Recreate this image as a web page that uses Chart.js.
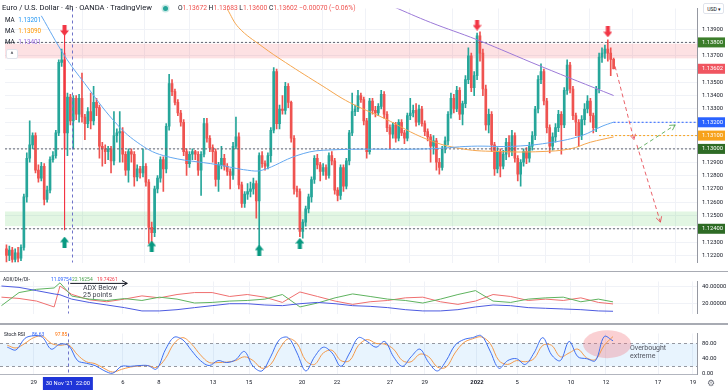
<!DOCTYPE html>
<html>
<head>
<meta charset="utf-8">
<script src="https://cdn.jsdelivr.net/npm/chart.js@4.4.0/dist/chart.umd.min.js"></script>
<style>
  body { margin: 0; background: #fff; font-family: Roboto, "Liberation Sans", sans-serif; }
  #wrap { position: relative; width: 728px; height: 391px; overflow: hidden; background: #fff; }
  canvas { position: absolute; left: 0; }
  .t { position: absolute; white-space: nowrap; line-height: 10px; color: #131722; }
  .s { font-size: 6px; transform: scaleX(0.82); transform-origin: 0 50%; }
  .k { color: #131722; }
  .sep { position: absolute; left: 0; width: 728px; background: #a8abb3; }
</style>
</head>
<body>
<div id="wrap">
  <canvas id="main" width="728" height="271" style="top:0"></canvas>
  <canvas id="adx" width="728" height="49" style="top:273px"></canvas>
  <canvas id="stoch" width="728" height="66" style="top:325px"></canvas>

  <div class="sep" style="top:271px;height:1px"></div>
  <div class="sep" style="top:323px;height:2px"></div>

  <!-- main legend -->
  <div class="t" style="left:2px;top:3px;font-size:7.6px">Euro / U.S. Dollar · 4h · OANDA · TradingView</div>
  <div style="position:absolute;left:163px;top:6px;width:5px;height:5px;border-radius:50%;background:#26a69a;box-shadow:0 0 0 1.5px rgba(38,166,154,0.25)"></div>
  <div class="t" style="left:178px;top:3px;font-size:6.7px;color:#ef5350"><span class="k">O</span>1.13672 <span class="k">H</span>1.13683 <span class="k">L</span>1.13600 <span class="k">C</span>1.13602 −0.00070 (−0.06%)</div>
  <div class="t" style="left:5px;top:15px;font-size:6.3px">MA <span style="color:#2196f3;margin-left:2px">1.13201</span></div>
  <div class="t" style="left:5px;top:26px;font-size:6.3px">MA <span style="color:#ff9800;margin-left:2px">1.13090</span></div>
  <div class="t" style="left:5px;top:37px;font-size:6.3px">MA <span style="color:#9c6ade;margin-left:2px">1.13401</span></div>
  <div style="position:absolute;left:6px;top:49px;width:10px;height:8px;border:1px solid #e0e3eb;border-radius:2px;background:#fff;font-size:7px;line-height:10px;text-align:center;color:#131722">^</div>
  <div style="position:absolute;left:703px;top:3px;width:19px;height:9px;border:1px solid #e0e3eb;border-radius:2px;font-size:6px;line-height:9px;text-align:center;color:#131722;background:#fff"><span style="display:inline-block;transform:scale(0.85)">USD ▾</span></div>

  <!-- ADX legend -->
  <div class="t s" style="left:3px;top:274px">ADX/DI+/DI-</div>
  <div class="t s" style="left:51px;top:274px;color:#2962ff">11.09754</div>
  <div class="t s" style="left:72px;top:274px;color:#43a047">22.16254</div>
  <div class="t s" style="left:97px;top:274px;color:#f23645">19.74261</div>
  <div class="t" style="left:83px;top:283px;font-size:7px;color:#434651">ADX Below</div>
  <div class="t" style="left:83px;top:290px;font-size:7px;color:#434651">25 points</div>

  <!-- Stoch legend -->
  <div class="t s" style="left:4px;top:329px">Stoch RSI</div>
  <div class="t s" style="left:32px;top:329px;color:#2962ff">86.63</div>
  <div class="t s" style="left:55px;top:329px;color:#ff6d00">97.85</div>
  <div class="t" style="left:630px;top:343px;font-size:7px;color:#50535e">Overbought</div>
  <div class="t" style="left:630px;top:351px;font-size:7px;color:#50535e">extreme</div>
  <div class="t" style="left:707px;top:378px;font-size:9px;color:#6a6d78">⚙</div>
</div>

<script>
// ---- data ----
const opens = [
  1.1225,1.1220,1.1224,1.1217,1.1222,1.1218,1.1226,1.1264,1.1293,1.1303,
  1.1310,1.1284,1.1278,1.1287,1.1262,1.1269,1.1292,1.1295,1.1312,1.1365,
  1.1367,1.1312,1.1339,1.1321,1.1338,1.1326,1.1338,1.1324,1.1319,1.1328,
  1.1321,1.1335,1.1331,1.1302,1.1300,1.1298,1.1300,1.1291,1.1310,1.1312,
  1.1313,1.1296,1.1284,1.1298,1.1296,1.1279,1.1285,1.1282,1.1287,1.1275,
  1.1241,1.1237,1.1270,1.1278,1.1292,1.1285,1.1317,1.1349,1.1343,1.1335,
  1.1327,1.1320,1.1298,1.1289,1.1296,1.1298,1.1296,1.1284,1.1296,1.1319,
  1.1308,1.1301,1.1298,1.1277,1.1288,1.1293,1.1287,1.1283,1.1280,1.1302,
  1.1309,1.1273,1.1259,1.1266,1.1268,1.1270,1.1274,1.1261,1.1295,1.1289,
  1.1287,1.1295,1.1314,1.1358,1.1319,1.1330,1.1329,1.1347,1.1335,1.1308,
  1.1270,1.1268,1.1238,1.1245,1.1255,1.1264,1.1277,1.1293,1.1288,1.1283,
  1.1286,1.1280,1.1295,1.1291,1.1269,1.1265,1.1286,1.1272,1.1291,1.1312,
  1.1328,1.1330,1.1340,1.1337,1.1321,1.1298,1.1336,1.1329,1.1327,1.1332,
  1.1341,1.1326,1.1316,1.1311,1.1318,1.1308,1.1320,1.1312,1.1308,1.1325,
  1.1327,1.1329,1.1320,1.1330,1.1319,1.1313,1.1309,1.1302,1.1306,1.1290,
  1.1286,1.1300,1.1306,1.1326,1.1338,1.1330,1.1344,1.1326,1.1334,1.1352,
  1.1370,1.1346,1.1355,1.1385,1.1372,1.1345,1.1318,1.1326,1.1303,1.1285,
  1.1298,1.1287,1.1296,1.1305,1.1298,1.1310,1.1293,1.1281,1.1290,1.1298,
  1.1293,1.1302,1.1310,1.1330,1.1352,1.1358,1.1336,1.1316,1.1302,1.1309,
  1.1316,1.1326,1.1318,1.1344,1.1363,1.1345,1.1325,1.1320,1.1310,1.1322,
  1.1330,1.1336,1.1325,1.1316,1.1345,1.1369,1.1372,1.1375,1.1372,1.13672
];
const highs = [
  1.1228,1.1227,1.1226,1.1225,1.1226,1.1228,1.1266,1.1297,1.1321,1.1312,
  1.1312,1.1288,1.1290,1.1289,1.1272,1.1294,1.1298,1.1314,1.1367,1.1375,
  1.1372,1.1342,1.1341,1.1340,1.1340,1.1341,1.1357,1.1326,1.1331,1.1342,
  1.1347,1.1338,1.1333,1.1305,1.1303,1.1302,1.1302,1.1328,1.1315,1.1328,
  1.1316,1.1298,1.1300,1.1300,1.1298,1.1288,1.1287,1.1300,1.1289,1.1277,
  1.1245,1.1272,1.1280,1.1294,1.1294,1.1319,1.1356,1.1352,1.1345,1.1337,
  1.1329,1.1322,1.1300,1.1298,1.1300,1.1299,1.1298,1.1298,1.1323,1.1323,
  1.1310,1.1303,1.1300,1.1290,1.1302,1.1296,1.1289,1.1285,1.1305,1.1324,
  1.1312,1.1275,1.1268,1.1274,1.1275,1.1278,1.1276,1.1297,1.1298,1.1291,
  1.1297,1.1316,1.1361,1.1360,1.1333,1.1340,1.1350,1.1349,1.1336,1.1310,
  1.1272,1.1270,1.1247,1.1257,1.1266,1.1279,1.1295,1.1296,1.1290,1.1289,
  1.1288,1.1297,1.1298,1.1293,1.1271,1.1288,1.1288,1.1293,1.1314,1.1342,
  1.1333,1.1344,1.1342,1.1339,1.1323,1.1338,1.1338,1.1332,1.1334,1.1344,
  1.1343,1.1328,1.1318,1.1320,1.1320,1.1322,1.1322,1.1314,1.1327,1.1338,
  1.1333,1.1334,1.1333,1.1332,1.1321,1.1315,1.1311,1.1310,1.1308,1.1293,
  1.1302,1.1309,1.1328,1.1342,1.1341,1.1347,1.1346,1.1336,1.1355,1.1376,
  1.1372,1.1358,1.1387,1.1388,1.1375,1.1348,1.1330,1.1328,1.1305,1.1301,
  1.1300,1.1299,1.1308,1.1310,1.1314,1.1312,1.1295,1.1292,1.1300,1.1301,
  1.1305,1.1313,1.1332,1.1355,1.1364,1.1360,1.1338,1.1318,1.1312,1.1319,
  1.1329,1.1328,1.1346,1.1367,1.1365,1.1347,1.1327,1.1322,1.1325,1.1334,
  1.1340,1.1338,1.1327,1.1347,1.1372,1.1376,1.1378,1.1382,1.1376,1.13683
];
const lows = [
  1.1215,1.1216,1.1214,1.1215,1.1215,1.1216,1.1224,1.1260,1.1290,1.1300,
  1.1282,1.1275,1.1276,1.1258,1.1260,1.1267,1.1290,1.1293,1.1310,1.1362,
  1.1300,1.1295,1.1318,1.1300,1.1322,1.1320,1.1320,1.1307,1.1316,1.1315,
  1.1318,1.1325,1.1293,1.1287,1.1289,1.1292,1.1282,1.1288,1.1305,1.1290,
  1.1290,1.1280,1.1275,1.1290,1.1272,1.1276,1.1278,1.1279,1.1272,1.1229,
  1.1227,1.1234,1.1267,1.1275,1.1268,1.1282,1.1314,1.1340,1.1333,1.1325,
  1.1317,1.1295,1.1280,1.1286,1.1292,1.1292,1.1280,1.1265,1.1294,1.1305,
  1.1298,1.1290,1.1272,1.1268,1.1285,1.1284,1.1280,1.1270,1.1277,1.1300,
  1.1270,1.1256,1.1256,1.1262,1.1264,1.1266,1.1248,1.1227,1.1286,1.1284,
  1.1285,1.1290,1.1312,1.1315,1.1315,1.1326,1.1326,1.1331,1.1305,1.1266,
  1.1264,1.1234,1.1233,1.1242,1.1252,1.1260,1.1274,1.1285,1.1276,1.1280,
  1.1277,1.1278,1.1288,1.1266,1.1261,1.1262,1.1268,1.1270,1.1288,1.1310,
  1.1325,1.1328,1.1335,1.1318,1.1293,1.1296,1.1326,1.1324,1.1325,1.1330,
  1.1323,1.1313,1.1300,1.1308,1.1305,1.1306,1.1310,1.1304,1.1306,1.1322,
  1.1324,1.1317,1.1318,1.1317,1.1310,1.1306,1.1290,1.1296,1.1284,1.1281,
  1.1284,1.1297,1.1303,1.1323,1.1327,1.1328,1.1322,1.1318,1.1331,1.1349,
  1.1343,1.1340,1.1352,1.1366,1.1340,1.1314,1.1312,1.1298,1.1280,1.1282,
  1.1279,1.1285,1.1292,1.1294,1.1295,1.1290,1.1276,1.1272,1.1287,1.1289,
  1.1290,1.1299,1.1307,1.1327,1.1349,1.1333,1.1312,1.1297,1.1299,1.1305,
  1.1313,1.1296,1.1316,1.1341,1.1342,1.1322,1.1310,1.1302,1.1307,1.1318,
  1.1327,1.1320,1.1312,1.1313,1.1342,1.1365,1.1368,1.1366,1.1355,1.13600
];
const closes = [
  1.1220,1.1224,1.1217,1.1222,1.1218,1.1226,1.1264,1.1293,1.1303,1.1310,
  1.1284,1.1278,1.1287,1.1262,1.1269,1.1292,1.1295,1.1312,1.1365,1.1367,
  1.1312,1.1339,1.1321,1.1338,1.1326,1.1338,1.1324,1.1319,1.1328,1.1321,
  1.1335,1.1331,1.1302,1.1300,1.1298,1.1300,1.1291,1.1310,1.1312,1.1313,
  1.1296,1.1284,1.1298,1.1296,1.1279,1.1285,1.1282,1.1287,1.1275,1.1241,
  1.1237,1.1270,1.1278,1.1292,1.1285,1.1317,1.1349,1.1343,1.1335,1.1327,
  1.1320,1.1298,1.1289,1.1296,1.1298,1.1296,1.1284,1.1296,1.1319,1.1308,
  1.1301,1.1298,1.1277,1.1288,1.1293,1.1287,1.1283,1.1280,1.1302,1.1309,
  1.1273,1.1259,1.1266,1.1268,1.1270,1.1274,1.1261,1.1295,1.1289,1.1287,
  1.1295,1.1314,1.1358,1.1319,1.1330,1.1329,1.1347,1.1335,1.1308,1.1270,
  1.1268,1.1238,1.1245,1.1255,1.1264,1.1277,1.1293,1.1288,1.1283,1.1286,
  1.1280,1.1295,1.1291,1.1269,1.1265,1.1286,1.1272,1.1291,1.1312,1.1328,
  1.1330,1.1340,1.1337,1.1321,1.1298,1.1336,1.1329,1.1327,1.1332,1.1341,
  1.1326,1.1316,1.1311,1.1318,1.1308,1.1320,1.1312,1.1308,1.1325,1.1327,
  1.1329,1.1320,1.1330,1.1319,1.1313,1.1309,1.1302,1.1306,1.1290,1.1286,
  1.1300,1.1306,1.1326,1.1338,1.1330,1.1344,1.1326,1.1334,1.1352,1.1370,
  1.1346,1.1355,1.1385,1.1372,1.1345,1.1318,1.1326,1.1303,1.1285,1.1298,
  1.1287,1.1296,1.1305,1.1298,1.1310,1.1293,1.1281,1.1290,1.1298,1.1293,
  1.1302,1.1310,1.1330,1.1352,1.1358,1.1336,1.1316,1.1302,1.1309,1.1316,
  1.1326,1.1318,1.1344,1.1363,1.1345,1.1325,1.1320,1.1310,1.1322,1.1330,
  1.1336,1.1325,1.1316,1.1345,1.1369,1.1372,1.1375,1.1372,1.13672,1.13602
];

// moving averages: [candle index, price]
const maBlue = [[12,1.1400],[20,1.1370],[27,1.1349],[37,1.1321],[45,1.1305],[54,1.1295],[73,1.1288],[83,1.1284],[88,1.1284],[100,1.1295],[109,1.1299],[145,1.1300],[160,1.1302],[175,1.1302],[188,1.1305],[198,1.1310],[205,1.1317],[209,1.13201]];
const maOrange = [[76,1.1405],[80,1.1391],[88,1.1377],[96,1.1365],[109,1.1347],[118,1.1335],[130,1.1323],[145,1.1307],[157,1.1300],[170,1.1298],[184,1.1298],[194,1.1300],[201,1.1305],[209,1.1309]];
const maPurple = [[133,1.1407],[146,1.1395],[162,1.1382],[184,1.1362],[209,1.13401]];

// drawings
const pinkZone = [1.1368, 1.1379];
const greenZone = [1.1242, 1.1253];
const levelLines = [1.1380, 1.1300, 1.1240];
const blueLevel = [209, 1.1320];
const orangeLevel = [204, 1.1310];
const redArrows = [[20,1.1389],[162,1.1393],[207,1.1388]];
const greenArrows = [[20,1.1230],[50,1.1227],[87,1.1224],[101,1.1229]];
const redMarkLine = [[20,1.1386],[20,1.1239]];
const projRed1 = [[209.5,1.1362],[216,1.1307]];
const projGreen = [[217.5,1.1300],[230.2,1.1318]];
const projRed2 = [[217,1.1303],[225.1,1.1245]];
const crossIdx = 22.7;
const crossLabel = "30 Nov '21  22:00";

// axes
const tickIdx = [11,41.5,53.8,72.3,84.6,102.7,114.7,132.8,144.7,162.5,176.2,194.6,206.6,224.4,236.3];
const tickText = ['29','6','8','13','15','20','22','27','29','2022','5','10','12','17','19'];
const priceTicks = [1.122,1.123,1.124,1.125,1.126,1.127,1.128,1.129,1.130,1.131,1.132,1.133,1.134,1.135,1.136,1.137,1.138,1.139];
const axisTags = [
  {v:1.1380, t:'1.13800', c:'#3b7d2a'},
  {v:1.13602, t:'1.13602', c:'#f05560'},
  {v:1.1320, t:'1.13200', c:'#2962ff'},
  {v:1.1310, t:'1.13100', c:'#f7a21b'},
  {v:1.1300, t:'1.13000', c:'#2e6b25'},
  {v:1.1240, t:'1.12400', c:'#2e6b25'}
];

// ADX / DI panel
const adxIdx = [0,6,12,18,20,24,30,36,42,48,54,60,66,72,78,84,90,96,102,108,114,120,126,132,138,144,150,156,162,168,174,180,186,192,198,204,209];
const adxLine = [40.8,39.2,35.4,31.5,30.5,25.4,21.5,18.5,15.4,11.5,11.5,13,15.4,17.7,20,20,18.5,17.7,20,21.5,20,17.7,16.9,15.4,13,11.5,11.5,13,16.2,18.5,17.7,15.4,14.6,13.8,13,11.5,11.1];
const diPlus = [17.7,33.1,36.9,38.5,44.6,29,25.4,23.8,26,23.8,27.7,25.4,20.8,21.5,23.1,23.8,25.4,30.8,16.2,20.8,26.9,31.5,28.5,25.4,23.8,20.8,25.4,30.8,35.4,23.1,21.5,25.4,26.9,27.7,22.3,25.4,22.16];
const diMinus = [27.7,26.2,23.1,16.2,40.8,31,24.6,22.3,25.4,29.2,26.9,30.8,33.1,33.1,28.5,30.8,27.7,21.5,33.8,28.5,23.1,19.2,22.3,23.8,26.9,27.7,22.3,19.2,23.1,30.8,28.5,23.8,25.4,23.8,26.9,21.5,19.74];
const adxNote = [[23.5,43.9],[43,43.9]];

// Stoch RSI panel, one value every 3 candles starting at candle 2
const stochStart = 2, stochStep = 3;
const stochK = [70,63,93,100,96,65,78,74,35,28, 22,9,2,20,20,22,22,13,63,96, 89,61,35,22,35,30,37,59,20,8, 45,90,95,55,8,45,70,55,20,55, 95,85,70,85,45,20,45,65,30,8, 35,75,90,95,100,60,15,35,40,25, 55,95,50,35,85,45,40,35,98,86.63];
const stochD = [75,68,80,95,99,80,75,76,50,32, 27,15,5,12,18,21,22,17,40,80, 95,78,50,30,30,31,35,45,35,15, 25,65,92,80,35,25,55,62,35,35, 75,90,80,78,65,35,32,52,45,18, 18,55,82,92,97,80,35,25,35,32, 40,75,75,45,55,65,42,38,75,97.85];
const overbought = [207, 78];

// ---- setup ----
const FONT = 'Roboto, "Liberation Sans", sans-serif';
const UP = '#26a69a', DOWN = '#ef5350';
const xMin = -0.5, xMax = 237.7;
const pts = arr => arr.map(p => ({x: p[0], y: p[1]}));

function makeArrow(color, up) {
  const c = document.createElement('canvas');
  c.width = 9; c.height = 11;
  const g = c.getContext('2d');
  g.fillStyle = color;
  g.beginPath();
  if (up) {
    g.moveTo(4.5, 0); g.lineTo(9, 5.5); g.lineTo(6.5, 5.5); g.lineTo(6.5, 11);
    g.lineTo(2.5, 11); g.lineTo(2.5, 5.5); g.lineTo(0, 5.5);
  } else {
    g.moveTo(2.5, 0); g.lineTo(6.5, 0); g.lineTo(6.5, 5.5); g.lineTo(9, 5.5);
    g.lineTo(4.5, 11); g.lineTo(0, 5.5); g.lineTo(2.5, 5.5);
  }
  g.closePath(); g.fill();
  return c;
}

function xScale(showLabels) {
  return {
    type: 'linear', min: xMin, max: xMax, offset: false,
    afterBuildTicks: s => { s.ticks = tickIdx.map(v => ({value: v})); },
    grid: {color: '#f0f2f7', drawTicks: false},
    border: {display: showLabels, color: '#b2b5be'},
    ticks: showLabels ? {
      display: true, autoSkip: false, maxRotation: 0, padding: 5, color: '#131722',
      font: c => ({size: 5.8, family: FONT, weight: tickText[c.index] === '2022' ? 'bold' : 'normal'}),
      callback: (v, i) => tickText[i]
    } : {display: false},
    afterFit: s => { s.height = showLabels ? 17 : 0; }
  };
}

function yScale(min, max, ticks, fmt, grid) {
  return {
    position: 'right', min, max,
    afterBuildTicks: s => { s.ticks = ticks.map(v => ({value: v})); },
    grid: {display: grid, color: '#f0f2f7', drawTicks: false},
    border: {color: '#9598a1'},
    ticks: {padding: 5, color: '#131722', font: {size: 5.8, family: FONT}, autoSkip: false, callback: fmt},
    afterFit: s => { s.width = 31; }
  };
}

const crosshair = {
  id: 'crosshair',
  afterDatasetsDraw(chart) {
    const {ctx, chartArea: a, scales: {x}} = chart;
    const px = Math.round(x.getPixelForValue(crossIdx)) + 0.5;
    ctx.save();
    ctx.strokeStyle = '#6f73c9';
    ctx.lineWidth = 1;
    ctx.setLineDash([3, 3]);
    ctx.beginPath(); ctx.moveTo(px, a.top); ctx.lineTo(px, a.bottom); ctx.stroke();
    ctx.restore();
  }
};

function drawHeads(chart) {
  const ctx = chart.ctx;
  chart.data.datasets.forEach((ds, i) => {
    if (!ds.arrowHead) return;
    const d = chart.getDatasetMeta(i).data;
    const p1 = d[d.length - 2], p2 = d[d.length - 1];
    const ang = Math.atan2(p2.y - p1.y, p2.x - p1.x);
    ctx.save();
    ctx.strokeStyle = ds.borderColor; ctx.lineWidth = 1; ctx.setLineDash([]);
    ctx.beginPath();
    [0.5, -0.5].forEach(o => {
      ctx.moveTo(p2.x, p2.y);
      ctx.lineTo(p2.x - 6 * Math.cos(ang + o), p2.y - 6 * Math.sin(ang + o));
    });
    ctx.stroke();
    ctx.restore();
  });
}

const mainOverlay = {
  id: 'mainOverlay',
  beforeDatasetsDraw(chart) {
    const {ctx, chartArea: a, scales: {y}} = chart;
    ctx.save();
    [[pinkZone, 'rgba(242,54,69,0.15)'], [greenZone, 'rgba(76,200,80,0.16)']].forEach(([z, col]) => {
      const t = y.getPixelForValue(z[1]), b = y.getPixelForValue(z[0]);
      ctx.fillStyle = col;
      ctx.fillRect(a.left, t, a.right - a.left, b - t);
    });
    ctx.restore();
  },
  afterDatasetsDraw(chart) { drawHeads(chart); },
  afterDraw(chart) {
    const {ctx, chartArea: a, scales: {y}} = chart;
    ctx.save();
    ctx.font = `5.8px ${FONT}`;
    ctx.textBaseline = 'middle';
    axisTags.forEach(t => {
      const py = y.getPixelForValue(t.v);
      ctx.fillStyle = t.c;
      ctx.fillRect(a.right + 1, py - 5, 27, 10);
      ctx.fillStyle = '#fff';
      ctx.fillText(t.t, a.right + 5, py);
    });
    ctx.restore();
  }
};

const base = {
  responsive: false, devicePixelRatio: 1, animation: false, events: [],
  layout: {padding: 0},
  plugins: {legend: {display: false}, tooltip: {enabled: false}}
};

const lineDs = (data, color, extra) => Object.assign({
  type: 'line', data, borderColor: color, borderWidth: 1, pointRadius: 0, fill: false, tension: 0
}, extra || {});

const idx = opens.map((_, i) => i);
const candleColor = c => closes[c.dataIndex] >= opens[c.dataIndex] ? UP : DOWN;

new Chart(document.getElementById('main'), {
  type: 'bar',
  data: {
    datasets: [
      {type: 'bar', data: idx.map(i => ({x: i, y: [lows[i], highs[i]]})), backgroundColor: candleColor, barThickness: 1, grouped: false, order: 9},
      {type: 'bar', data: idx.map(i => ({x: i, y: [opens[i], closes[i]]})), backgroundColor: candleColor, barThickness: 2, minBarLength: 1, grouped: false, order: 8},
      lineDs(pts(maBlue), '#64a8f0', {tension: 0.4, order: 5}),
      lineDs(pts(maOrange), '#f5a64f', {tension: 0.4, order: 5}),
      lineDs(pts(maPurple), '#9c7ad8', {tension: 0.4, order: 5}),
      ...levelLines.map(v => lineDs([{x: xMin, y: v}, {x: xMax, y: v}], '#60636e', {borderDash: [2, 2], order: 6})),
      lineDs([{x: blueLevel[0], y: blueLevel[1]}, {x: xMax, y: blueLevel[1]}], '#2962ff', {borderDash: [2, 2], order: 4}),
      lineDs([{x: orangeLevel[0], y: orangeLevel[1]}, {x: xMax, y: orangeLevel[1]}], '#f7a21b', {borderDash: [2, 2], order: 4}),
      lineDs(pts(redMarkLine), '#f23645', {order: 7}),
      lineDs(pts(projRed1), 'rgba(230,70,80,0.85)', {borderDash: [4, 3], arrowHead: true, order: 2}),
      lineDs(pts(projGreen), 'rgba(90,170,90,0.9)', {borderDash: [4, 3], arrowHead: true, order: 2}),
      lineDs(pts(projRed2), 'rgba(230,70,80,0.85)', {borderDash: [4, 3], arrowHead: true, order: 2}),
      {type: 'line', data: pts(redArrows), showLine: false, pointStyle: makeArrow('#f23645', false), order: 0},
      {type: 'line', data: pts(greenArrows), showLine: false, pointStyle: makeArrow('#089981', true), order: 0}
    ]
  },
  options: Object.assign({}, base, {
    scales: {
      x: xScale(false),
      y: yScale(1.121465, 1.140549, priceTicks, v => v.toFixed(5), true)
    }
  }),
  plugins: [mainOverlay, crosshair]
});

new Chart(document.getElementById('adx'), {
  type: 'line',
  data: {
    datasets: [
      lineDs(adxIdx.map((x, i) => ({x, y: diMinus[i]})), '#ef6f6f', {order: 3}),
      lineDs(adxIdx.map((x, i) => ({x, y: diPlus[i]})), '#5fb35f', {order: 2}),
      lineDs(adxIdx.map((x, i) => ({x, y: adxLine[i]})), '#4d5be0', {order: 1}),
      lineDs(pts(adxNote), '#131722', {arrowHead: true, order: 0})
    ]
  },
  options: Object.assign({}, base, {
    scales: {
      x: xScale(false),
      y: yScale(8.46, 46.15, [20, 40], v => v.toFixed(5), true)
    }
  }),
  plugins: [{id: 'heads', afterDatasetsDraw: drawHeads}, crosshair]
});

const stochOverlay = {
  id: 'stochOverlay',
  beforeDatasetsDraw(chart) {
    const {ctx, chartArea: a, scales: {x, y}} = chart;
    const t = y.getPixelForValue(80), b = y.getPixelForValue(20);
    ctx.save();
    ctx.fillStyle = 'rgba(33,150,243,0.1)';
    ctx.fillRect(a.left, t, a.right - a.left, b - t);
    ctx.strokeStyle = '#9598a1'; ctx.setLineDash([3, 3]); ctx.lineWidth = 1;
    ctx.beginPath();
    [t, b].forEach(py => { ctx.moveTo(a.left, Math.round(py) + 0.5); ctx.lineTo(a.right, Math.round(py) + 0.5); });
    ctx.stroke();
    ctx.beginPath();
    ctx.ellipse(x.getPixelForValue(overbought[0]), y.getPixelForValue(overbought[1]), 24, 14, 0, 0, Math.PI * 2);
    ctx.fillStyle = 'rgba(242,120,130,0.35)';
    ctx.fill();
    ctx.restore();
  },
  afterDraw(chart) {
    const {ctx, chartArea: a, scales: {x}} = chart;
    const px = x.getPixelForValue(crossIdx);
    ctx.save();
    ctx.fillStyle = '#1f35d8';
    ctx.fillRect(px - 25, a.bottom + 3, 50, 13);
    ctx.fillStyle = '#fff';
    ctx.font = `5.8px ${FONT}`;
    ctx.textAlign = 'center'; ctx.textBaseline = 'middle';
    ctx.fillText(crossLabel, px, a.bottom + 9.5);
    ctx.restore();
  }
};

new Chart(document.getElementById('stoch'), {
  type: 'line',
  data: {
    datasets: [
      lineDs(stochD.map((v, i) => ({x: stochStart + i * stochStep, y: v})), '#f39a4c', {tension: 0.35, order: 2}),
      lineDs(stochK.map((v, i) => ({x: stochStart + i * stochStep, y: v})), '#3f6ff0', {tension: 0.35, order: 1})
    ]
  },
  options: Object.assign({}, base, {
    scales: {
      x: xScale(true),
      y: yScale(0, 105.9, [0, 40, 80], v => v.toFixed(2), false)
    }
  }),
  plugins: [stochOverlay, crosshair]
});
</script>
</body>
</html>
